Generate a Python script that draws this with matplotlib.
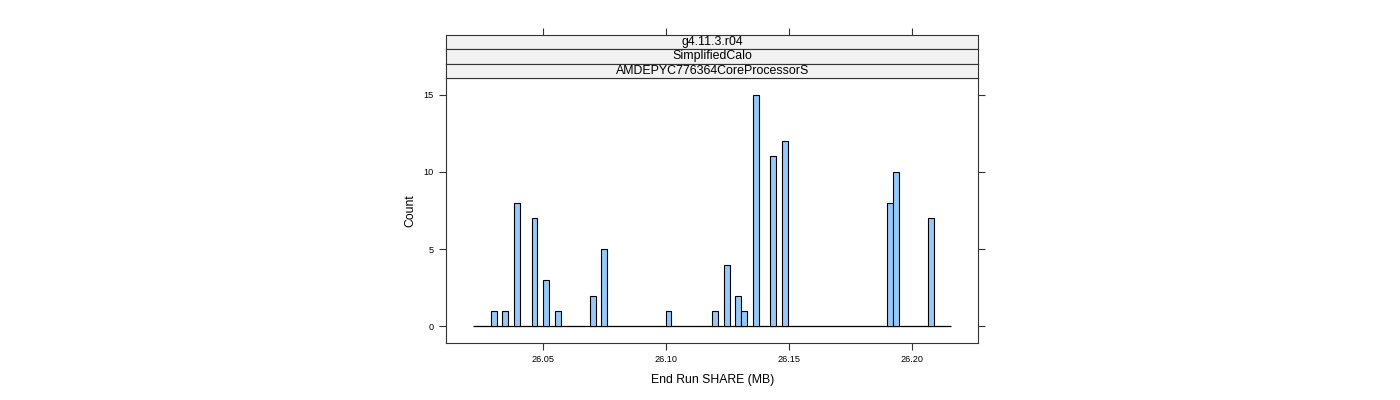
import numpy as np
import matplotlib.pyplot as plt

plt.rcParams['font.family'] = ['Liberation Sans', 'DejaVu Sans']

# histogram: equal bins, only the non-empty ones listed
bin_start = 26.0215
bin_width = 0.002372
n_bins = 82
bin_index = [3, 5, 7, 10, 12, 14, 20, 22, 33, 41, 43, 45, 46, 48, 51, 53, 71, 72, 78]
bin_count = [1, 1, 8, 7, 3, 1, 2, 5, 1, 1, 4, 2, 1, 15, 11, 12, 8, 10, 7]

strip_labels = ["g4.11.3.r04", "SimplifiedCalo", "AMDEPYC776364CoreProcessorS"]
x_ticks = [26.05, 26.10, 26.15, 26.20]
y_ticks = [0, 5, 10, 15]

edges = bin_start + bin_width * np.arange(n_bins + 1)
counts = np.zeros(n_bins)
counts[bin_index] = bin_count

W, H = 1400, 400
fig = plt.figure(figsize=(14, 4), dpi=100)


def box(l, t, r, b):
    # pixel box -> figure fraction
    return [l / W, 1 - b / H, (r - l) / W, (b - t) / H]


xlim = (26.0105, 26.2271)

ax = fig.add_axes(box(446.3, 78.3, 978.3, 342.7))
# empty bins show as a flat line along zero
ax.plot([edges[0], edges[-1]], [0, 0], color='black', linewidth=0.9,
        solid_capstyle='butt', zorder=1)
nz = counts > 0
ax.bar(edges[:-1][nz], counts[nz], width=bin_width, align='edge',
       color='#96C8FA', edgecolor='black', linewidth=0.8, zorder=2)
ax.set_xlim(*xlim)
ax.set_ylim(-1.05, 16.05)
ax.set_xticks(x_ticks)
ax.set_xticklabels(['%.2f' % v for v in x_ticks])
ax.set_yticks(y_ticks)
ax.tick_params(axis='both', direction='out', length=5, width=0.8,
               labelsize=6.6, color='#333333')
ax.tick_params(axis='y', right=True, pad=4.3)
ax.tick_params(axis='x', pad=3.5)
for s in ax.spines.values():
    s.set_linewidth(0.8)
    s.set_color('#333333')
ax.set_xlabel('End Run SHARE (MB)', fontsize=8.8)
ax.xaxis.set_label_coords(0.5, -0.118)
ax.set_ylabel('Count', fontsize=8.8)
ax.yaxis.set_label_coords(-0.056, 0.5)

# strips on top, lattice style
strip_rows = [(34.7, 49.3), (49.3, 63.7), (63.7, 78.3)]
for i, (lab, (t, b)) in enumerate(zip(strip_labels, strip_rows)):
    sa = fig.add_axes(box(446.3, t, 978.3, b))
    sa.set_facecolor('#F2F2F2')
    sa.set_xlim(*xlim)
    sa.set_yticks([])
    if i == 0:
        sa.set_xticks(x_ticks)
        sa.tick_params(axis='x', top=True, bottom=False, labeltop=False,
                       labelbottom=False, direction='out', length=5,
                       width=0.8, color='#333333')
    else:
        sa.set_xticks([])
    for s in sa.spines.values():
        s.set_linewidth(0.8)
        s.set_color('#333333')
    sa.text(0.5, 0.5, lab, transform=sa.transAxes, ha='center', va='center',
            fontsize=8.9)

plt.savefig('out.png', dpi=100)
